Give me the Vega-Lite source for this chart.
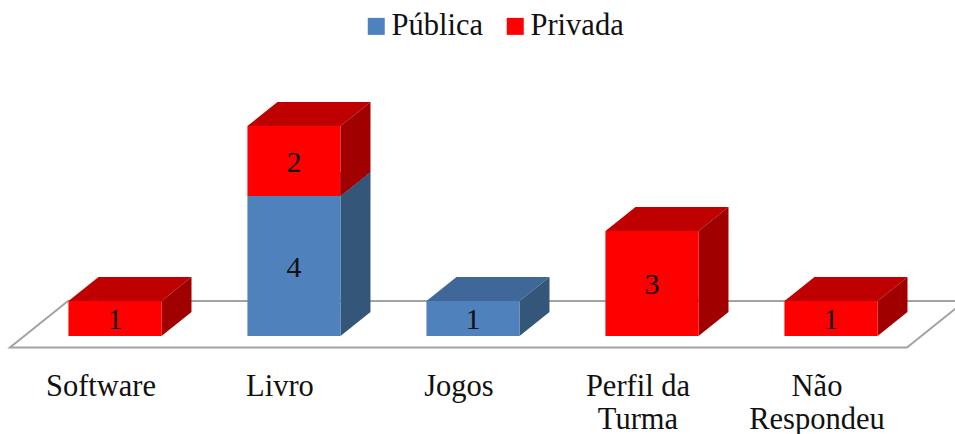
{
"$schema":"https://vega.github.io/schema/vega-lite/v6.json",
"width":955,"height":362,
"autosize":{"type":"none"},
"padding":{"left":0,"top":0,"right":0,"bottom":72},
"background":"white",
"config":{"view":{"stroke":null}},
"data":{"values":[
{"categoria":"Software","tipo":"Privada","valor":1},
{"categoria":"Livro","tipo":"Pública","valor":4},
{"categoria":"Livro","tipo":"Privada","valor":2},
{"categoria":"Jogos","tipo":"Pública","valor":1},
{"categoria":"Perfil da Turma","tipo":"Privada","valor":3},
{"categoria":"Não Respondeu","tipo":"Privada","valor":1}
]},
"transform":[{"stack":"valor","groupby":["categoria"],"sort":[{"field":"tipo","order":"descending"}],"as":["base","topo"]}],
"encoding":{
"x":{"field":"categoria","type":"nominal","title":null,
"scale":{"domain":["Software","Livro","Jogos","Perfil da Turma","Não Respondeu"],"paddingInner":0.48,"paddingOuter":0.4076,"align":0.469},
"axis":{"domain":false,"ticks":false,"grid":false,"labelAngle":0,"labelFont":"Liberation Serif","labelFontSize":30.5,"labelColor":"#111111","labelPadding":9,"labelBaseline":"top","labelLineHeight":33,"labelLimit":300,"labelOffset":-14,
"labelExpr":"datum.value=='Perfil da Turma'?['Perfil da','Turma']:datum.value=='Não Respondeu'?['Não','Respondeu']:datum.value"}},
"y":{"field":"topo","type":"quantitative","title":null,"scale":{"domain":[-0.7429,9.6],"nice":false,"zero":false},"axis":null}
},
"layer":[
{"data":{"values":[{"categoria":"Software","topo":0}]},"transform":[],
"mark":{"type":"point","filled":false,"opacity":1,"size":4,"stroke":"#a3a3a3","strokeWidth":2,"fill":"white","shape":"M-105 11.5L792 11.5L850 -35L-47 -35Z"}},
{"mark":{"type":"point","filled":true,"opacity":1,"size":4,"shape":"M-46.5 0L46.5 0L76.5 -24L-16.5 -24Z"},
"encoding":{"fill":{"condition":{"test":"datum.tipo==='Pública'","value":"#3F6797"},"value":"#BE0000"}}},
{"mark":{"type":"point","filled":true,"opacity":1,"size":4},
"encoding":{"shape":{"field":"valor","type":"nominal","legend":null,
"scale":{"domain":[1,2,3,4],"range":["M46.5 0L76.5 -24L76.5 11L46.5 35Z","M46.5 0L76.5 -24L76.5 46L46.5 70Z","M46.5 0L76.5 -24L76.5 81L46.5 105Z","M46.5 0L76.5 -24L76.5 116L46.5 140Z"]}},
"fill":{"condition":{"test":"datum.tipo==='Pública'","value":"#335679"},"value":"#A00000"}}},
{"mark":{"type":"bar"},
"encoding":{"y2":{"field":"base"},
"color":{"field":"tipo","type":"nominal",
"scale":{"domain":["Pública","Privada"],"range":["#4F81BD","#FF0000"]},
"legend":{"title":null,"orient":"none","legendX":361,"legendY":11,"direction":"horizontal","symbolType":"square","symbolSize":289,"symbolOpacity":1,"symbolStrokeWidth":0,"labelFont":"Liberation Serif","labelFontSize":30.5,"labelColor":"#111111","labelOffset":0,"columnPadding":17}}}},
{"transform":[{"calculate":"(datum.base+datum.topo)/2","as":"meio"}],
"mark":{"type":"text","font":"Liberation Serif","fontSize":30,"color":"#111111","baseline":"middle","align":"center","dy":2},
"encoding":{"text":{"field":"valor","type":"quantitative"},
"y":{"field":"meio","type":"quantitative"}}}
]
}
